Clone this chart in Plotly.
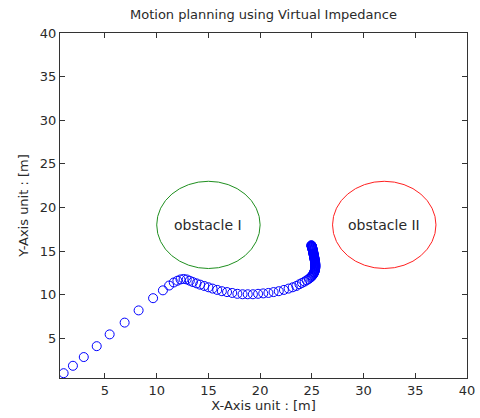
import plotly.graph_objects as go

# trajectory
traj_x = [1.0, 1.9, 2.95, 4.2, 5.45, 6.9, 8.25, 9.65, 10.6, 11.2, 11.65, 12.0, 12.3, 12.6, 12.9,
          13.2, 13.5, 13.85, 14.2, 14.6, 15.0, 15.4, 15.85, 16.3, 16.8, 17.3, 17.8, 18.3, 18.8,
          19.3, 19.8, 20.3, 20.8, 21.3, 21.8, 22.3, 22.75, 23.15, 23.5, 23.8, 24.05, 24.3, 24.5,
          24.7, 24.85, 24.95, 25.02, 25.08, 25.13, 25.17, 25.2, 25.23, 25.25, 25.27, 25.29, 25.3,
          25.31, 25.32, 25.33, 25.33, 25.34, 25.34, 25.34, 25.34, 25.33, 25.33, 25.32, 25.32,
          25.31, 25.3, 25.29, 25.28, 25.27, 25.26, 25.25, 25.24, 25.23, 25.22, 25.21, 25.2, 25.19,
          25.18, 25.17, 25.16, 25.15, 25.14, 25.13, 25.12, 25.11, 25.1, 25.09, 25.08, 25.07,
          25.06, 25.05, 25.04, 25.03, 25.02, 25.01, 25.0, 24.99, 24.98, 24.97, 24.96, 24.95]
traj_y = [1.0, 1.85, 2.85, 4.1, 5.45, 6.8, 8.2, 9.6, 10.5, 11.05, 11.4, 11.6, 11.75, 11.8, 11.75,
          11.6, 11.45, 11.3, 11.15, 11.0, 10.85, 10.7, 10.55, 10.4, 10.3, 10.2, 10.1, 10.05, 10.05,
          10.05, 10.1, 10.15, 10.2, 10.3, 10.4, 10.55, 10.7, 10.85, 11.0, 11.2, 11.35, 11.5, 11.65,
          11.8, 11.95, 12.05, 12.15, 12.24, 12.33, 12.41, 12.49, 12.57, 12.64, 12.71, 12.78, 12.85,
          12.92, 12.99, 13.06, 13.13, 13.2, 13.27, 13.34, 13.41, 13.48, 13.55, 13.62, 13.69,
          13.76, 13.83, 13.9, 13.97, 14.04, 14.1, 14.16, 14.22, 14.28, 14.34, 14.4, 14.46, 14.52,
          14.58, 14.64, 14.7, 14.76, 14.82, 14.88, 14.94, 15.0, 15.05, 15.1, 15.15, 15.2,
          15.25, 15.3, 15.35, 15.4, 15.44, 15.48, 15.52, 15.55, 15.58, 15.61, 15.64, 15.67]

obs_names = ["obstacle I", "obstacle II"]
obs_cx = [15, 32]
obs_cy = [18, 18]
obs_r = [5, 5]
obs_colors = ["#1f8f1f", "#ff2020"]

x_ticks = [5, 10, 15, 20, 25, 30, 35, 40]
y_ticks = [5, 10, 15, 20, 25, 30, 35, 40]

FONT = "DejaVu Sans, sans-serif"
TXT = "#2a2a2a"

fig = go.Figure()
fig.add_trace(go.Scatter(
    x=traj_x, y=traj_y, mode="markers",
    marker=dict(symbol="circle-open", size=9, color="#0000ff", line=dict(width=1, color="#0000ff")),
    showlegend=False, hoverinfo="skip"))

for name, cx, cy, r, c in zip(obs_names, obs_cx, obs_cy, obs_r, obs_colors):
    fig.add_shape(type="circle", xref="x", yref="y", x0=cx - r, x1=cx + r, y0=cy - r, y1=cy + r,
                  line=dict(color=c, width=1))
    fig.add_annotation(x=cx, y=cy, text=name, showarrow=False,
                       font=dict(family=FONT, size=14, color=TXT))

axis_common = dict(showgrid=False, zeroline=False, showline=True, linecolor="#333", linewidth=1,
                   mirror="ticks", ticks="inside", ticklen=5, tickcolor="#333", automargin=False,
                   tickfont=dict(family=FONT, size=13, color=TXT))

fig.update_xaxes(range=[0.65, 40], tickvals=x_ticks, ticktext=[str(v) for v in x_ticks],
                 title=dict(text="X-Axis unit : [m]", font=dict(family=FONT, size=13, color=TXT), standoff=4),
                 **axis_common)
fig.update_yaxes(range=[0.45, 40], tickvals=y_ticks, ticktext=[str(v) for v in y_ticks],
                 title=dict(text="Y-Axis unit : [m]", font=dict(family=FONT, size=13, color=TXT), standoff=8),
                 **axis_common)

fig.update_layout(
    width=480, height=418,
    margin=dict(l=60, r=13, t=33, b=40),
    paper_bgcolor="white", plot_bgcolor="white",
    title=dict(text="Motion planning using Virtual Impedance", x=0.5, xref="paper", y=1,
               yref="container", yanchor="top", pad=dict(t=10),
               font=dict(family=FONT, size=13, color=TXT)),
)

fig.write_html("out.html")
